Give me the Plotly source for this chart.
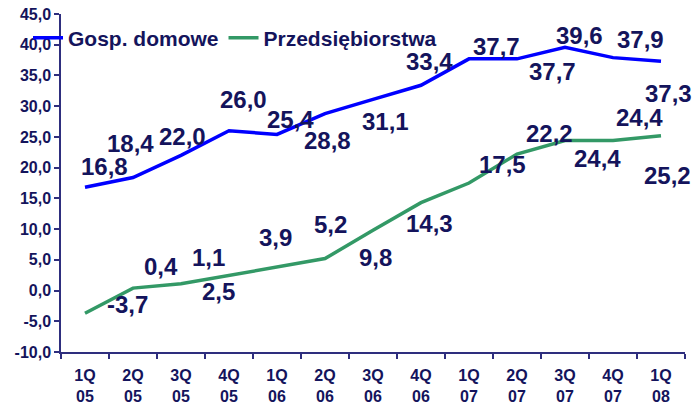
import plotly.graph_objects as go

categories = ["1Q<br>05", "2Q<br>05", "3Q<br>05", "4Q<br>05", "1Q<br>06", "2Q<br>06", "3Q<br>06",
              "4Q<br>06", "1Q<br>07", "2Q<br>07", "3Q<br>07", "4Q<br>07", "1Q<br>08"]
households = [16.8, 18.4, 22.0, 26.0, 25.4, 28.8, 31.1, 33.4, 37.7, 37.7, 39.6, 37.9, 37.3]
companies = [-3.7, 0.4, 1.1, 2.5, 3.9, 5.2, 9.8, 14.3, 17.5, 22.2, 24.4, 24.4, 25.2]
y_ticks = [-10, -5, 0, 5, 10, 15, 20, 25, 30, 35, 40, 45]

# label offsets in pixels (dx, dy up)
hh_off = [(19, 21), (-3, 34), (1, 19), (14, 31), (13, 15), (2, -27), (12, -22),
          (8, 24), (27, 12), (35, -13), (14, 12), (27, 18), (7, -32)]
co_off = [(42, 9), (28, 22), (27, 26), (-11, -16), (-2, 29), (5, 34), (2, -27),
          (8, -21), (33, 19), (32, 21), (32, -18), (26, 23), (6, -40)]

TXT = "#14145c"
AX = "#2e2e7e"
FONT = "Liberation Sans, Arial, sans-serif"

xs = list(range(len(categories)))
fig = go.Figure()
fig.add_trace(go.Scatter(x=xs, y=households, mode="lines", name="Gosp. domowe",
                         line=dict(color="#0000ff", width=3.5)))
fig.add_trace(go.Scatter(x=xs, y=companies, mode="lines", name="Przedsiębiorstwa",
                         line=dict(color="#339966", width=3.5)))

def fmt(v):
    return f"{v:.1f}".replace(".", ",")

for vals, offs in ((households, hh_off), (companies, co_off)):
    for i, (v, (dx, dy)) in enumerate(zip(vals, offs)):
        fig.add_annotation(x=i, y=v, text="<b>" + fmt(v) + "</b>", showarrow=False,
                           xshift=dx, yshift=dy,
                           font=dict(family=FONT, size=24, color=TXT))

fig.update_layout(
    width=693, height=406,
    margin=dict(l=61, r=8, t=14, b=54, autoexpand=False),
    paper_bgcolor="white", plot_bgcolor="white",
    font=dict(family=FONT, color=TXT),
    showlegend=True,
    legend=dict(orientation="h", xref="container", yref="container",
                x=28 / 693, y=1 - 38 / 406, xanchor="left", yanchor="middle",
                bgcolor="rgba(0,0,0,0)",
                font=dict(family=FONT, size=21, color=TXT, weight="bold"),
                itemwidth=30, tracegroupgap=0),
)
fig.update_xaxes(range=[-0.5, len(categories) - 0.5], tickvals=xs,
                 ticktext=["<b>" + c + "</b>" for c in categories],
                 showgrid=False, zeroline=False, showline=True, linecolor=AX, linewidth=1.5,
                 ticks="", ticklabelstandoff=8, tickfont=dict(family=FONT, size=16, color=TXT))
fig.update_xaxes(minor=dict(tickvals=[i - 0.5 for i in range(len(categories) + 1)],
                            ticks="outside", ticklen=5, tickcolor=AX, tickwidth=1.5))
fig.update_yaxes(range=[-10, 45], tickvals=y_ticks,
                 ticktext=["<b>" + fmt(t) + "</b>" for t in y_ticks],
                 showgrid=False, zeroline=False, showline=True, linecolor=AX, linewidth=1.5,
                 ticks="outside", ticklen=5, tickcolor=AX, tickwidth=1.5,
                 tickfont=dict(family=FONT, size=16, color=TXT))

fig.write_html("out.html", config={"displayModeBar": False},
               post_script="document.body.style.margin='0';")
